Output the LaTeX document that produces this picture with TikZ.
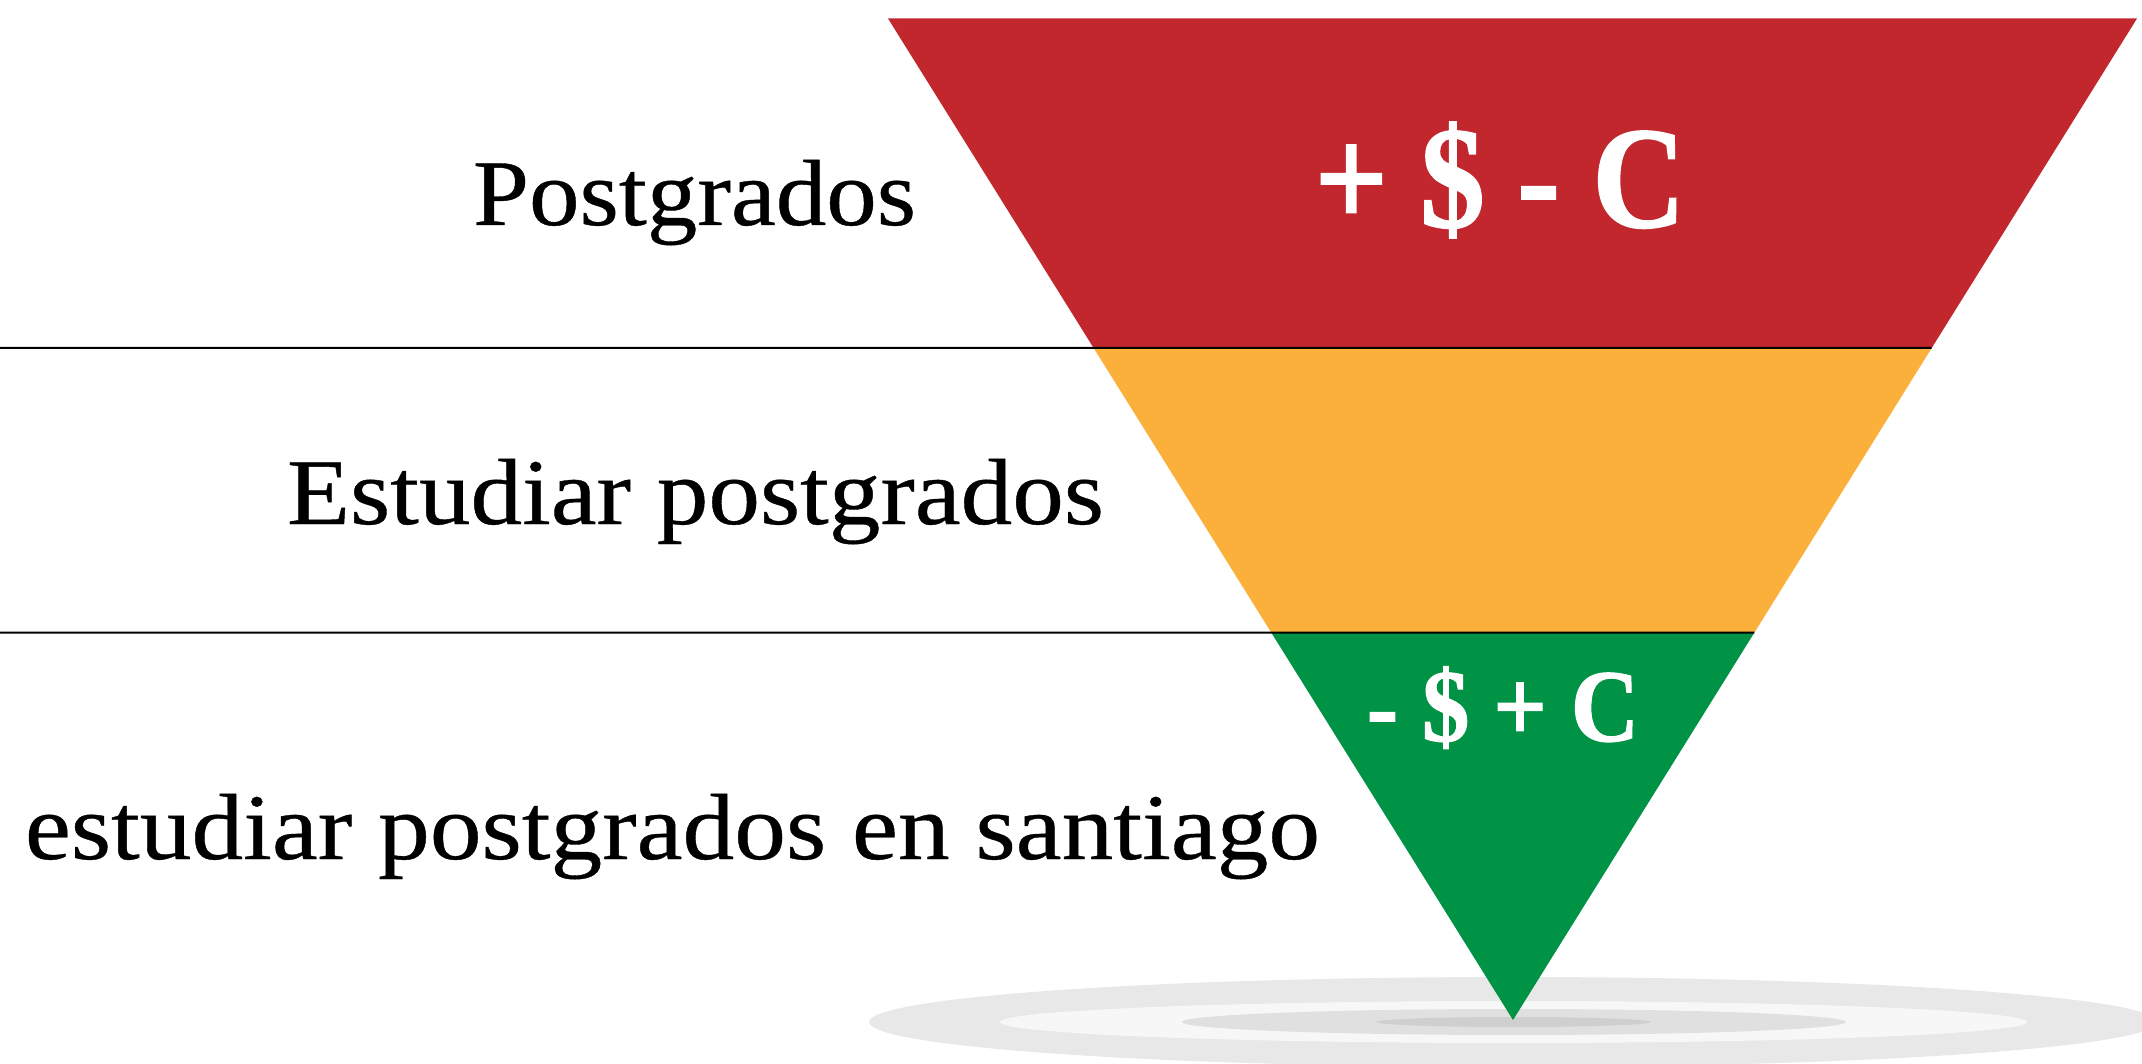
\documentclass[tikz,border=0pt]{standalone}
\usepackage{fontspec}
\setmainfont{Liberation Serif}
\newfontfamily\labelfont{Liberation Serif}[FakeBold=0.4]
\newfontfamily\signfont{Liberation Serif Bold}[FakeBold=1.2]
\usepackage{graphicx}
\usetikzlibrary{calc}
\definecolor{fred}{HTML}{C1272D}
\definecolor{forange}{HTML}{FBB03B}
\definecolor{fgreen}{HTML}{009245}
\definecolor{sh1}{HTML}{E8E8E8}
\definecolor{sh2}{HTML}{F7F7F7}
\definecolor{sh3}{HTML}{E0E0E0}
\definecolor{sh4}{HTML}{CFCFCF}
\tikzset{
  lefttext/.style={anchor=base, inner sep=0pt, font=\labelfont\fontsize{94}{110}\selectfont},
  signtext/.style={anchor=base, inner sep=0pt, text=white},
  sepline/.style={draw=black, line width=2pt}
}
\begin{document}
\begin{tikzpicture}[x=1pt,y=-1pt]
\useasboundingbox (0,0) rectangle (2142,1064);
\begin{scope}
\clip (0,0) rectangle (2142,1064);
% shadow ellipses
\fill[sh1] (1513,1022) ellipse [x radius=644, y radius=45];
\fill[sh2] (1513.5,1022) ellipse [x radius=513.5, y radius=21];
\fill[sh3] (1514,1022) ellipse [x radius=332, y radius=13];
\fill[sh4] (1513.5,1022) ellipse [x radius=137, y radius=5];
\end{scope}
% funnel
\coordinate (TL) at (888,18.5);
\coordinate (TR) at (2137,18.5);
\coordinate (A) at (1513,1020);
\coordinate (L1) at ($(TL)!0.329!(A)$);
\coordinate (R1) at ($(TR)!0.329!(A)$);
\coordinate (L2) at ($(TL)!0.6131!(A)$);
\coordinate (R2) at ($(TR)!0.6131!(A)$);
\fill[fred] (TL) -- (TR) -- (R1) -- (L1) -- cycle;
\fill[forange] (L1) -- (R1) -- (R2) -- (L2) -- cycle;
\fill[fgreen] (L2) -- (R2) -- (A) -- cycle;
% separator lines
\coordinate (S1) at (0,348);
\coordinate (S2) at (0,632.5);
\draw[sepline] (S1) -- (R1);
\draw[sepline] (S2) -- (R2);
% labels
\node[lefttext] (t1) at (694.5,225) {\scalebox{1.074}[1]{Postgrados}};
\node[lefttext] (t2) at (695.5,524) {\scalebox{1.098}[1]{Estudiar postgrados}};
\node[lefttext] (t3) at (672.5,859) {\scalebox{1.10}[1]{estudiar postgrados en santiago}};
\node[signtext, font=\signfont\fontsize{145}{160}\selectfont] (s1) at (1500,227) {\scalebox{0.89}[1]{+ \$ - C}};
\node[signtext, font=\signfont\fontsize{103}{120}\selectfont] (s2) at (1503,741) {\scalebox{0.92}[1]{- \$ + C}};
\end{tikzpicture}
\end{document}
